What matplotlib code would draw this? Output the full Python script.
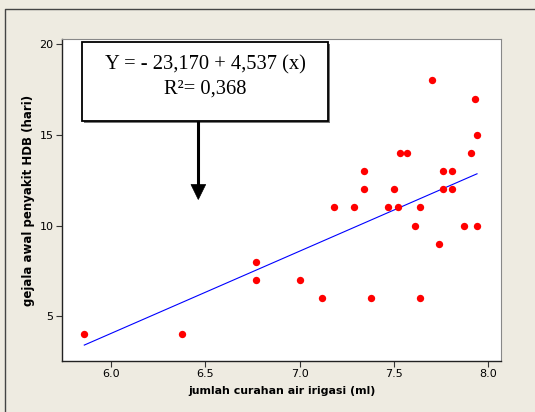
import numpy as np
import matplotlib
matplotlib.use("Agg")
import matplotlib.pyplot as plt
from matplotlib.patches import Rectangle, Polygon

# data
curah_air = [5.86, 6.38, 6.77, 6.77, 7.00, 7.12, 7.18, 7.29, 7.34, 7.34,
             7.38, 7.47, 7.50, 7.52, 7.53, 7.57, 7.61, 7.64, 7.64, 7.70,
             7.74, 7.76, 7.76, 7.81, 7.81, 7.87, 7.91, 7.93, 7.94, 7.94]
gejala_hdb = [4, 4, 8, 7, 7, 6, 11, 11, 13, 12,
              6, 11, 12, 11, 14, 14, 10, 11, 6, 18,
              9, 13, 12, 13, 12, 10, 14, 17, 15, 10]

intercept = -23.170
slope = 4.537
x_ticks = [6.0, 6.5, 7.0, 7.5, 8.0]
y_ticks = [5, 10, 15, 20]

bg = "#eeebe1"
W, H = 535, 412

fig = plt.figure(figsize=(W / 100, H / 100), dpi=100, facecolor=bg)

# main axes, placed by pixel
l, r, t, b = 62, 501, 39, 361
ax = fig.add_axes([l / W, 1 - b / H, (r - l) / W, (b - t) / H])
ax.set_facecolor("white")

ax.scatter(curah_air, gejala_hdb, s=28, color="#ff0000", zorder=3, linewidths=0)
xs = np.array([min(curah_air), max(curah_air)])
ax.plot(xs, intercept + slope * xs, color="#0000ff", lw=0.8, zorder=2)

ax.set_xlim(5.742, 8.067)
ax.set_ylim(2.54, 20.28)
ax.set_xticks(x_ticks)
ax.set_xticklabels(["%.1f" % v for v in x_ticks])
ax.set_yticks(y_ticks)
ax.tick_params(labelsize=8, length=4, width=0.8, color="#333333", pad=2)
for side in ["left", "bottom"]:
    ax.spines[side].set_color("#222222")
    ax.spines[side].set_linewidth(1.0)
for side in ["top", "right"]:
    ax.spines[side].set_color("#888888")
    ax.spines[side].set_linewidth(0.8)

ax.set_xlabel("jumlah curahan air irigasi (ml)", fontsize=7.9,
              fontweight="bold", labelpad=5)
ax.set_ylabel("gejala awal penyakit HDB (hari)", fontsize=8.5,
              fontweight="bold", labelpad=3)

# overlay in pixel coordinates for the border, the box and the arrow
ov = fig.add_axes([0, 0, 1, 1], zorder=10)
ov.set_xlim(0, W)
ov.set_ylim(H, 0)
ov.axis("off")
ov.patch.set_alpha(0)

ov.plot([5, 5, W], [H, 9, 9], color="#444444", lw=1.0)

ov.add_patch(Rectangle((84, 44), 246, 78.5, facecolor="#777777",
                       edgecolor="none"))
ov.add_patch(Rectangle((82.3, 42.3), 246, 78.4, facecolor="white",
                       edgecolor="black", lw=1.3))
ov.text(205, 65, "Y = - 23,170 + 4,537 (x)", ha="center", va="center",
        family="Liberation Serif", fontsize=14.8)
ov.text(205, 89, "R²= 0,368", ha="center", va="center",
        family="Liberation Serif", fontsize=14.8)

ov.plot([198.3, 198.3], [121, 186], color="black", lw=2.2,
        solid_capstyle="butt")
ov.add_patch(Polygon([[191, 184.5], [205.7, 184.5], [198.3, 199.5]],
                     closed=True, facecolor="black", edgecolor="black", lw=0.5))

fig.savefig("out.png", dpi=100, facecolor=bg)
